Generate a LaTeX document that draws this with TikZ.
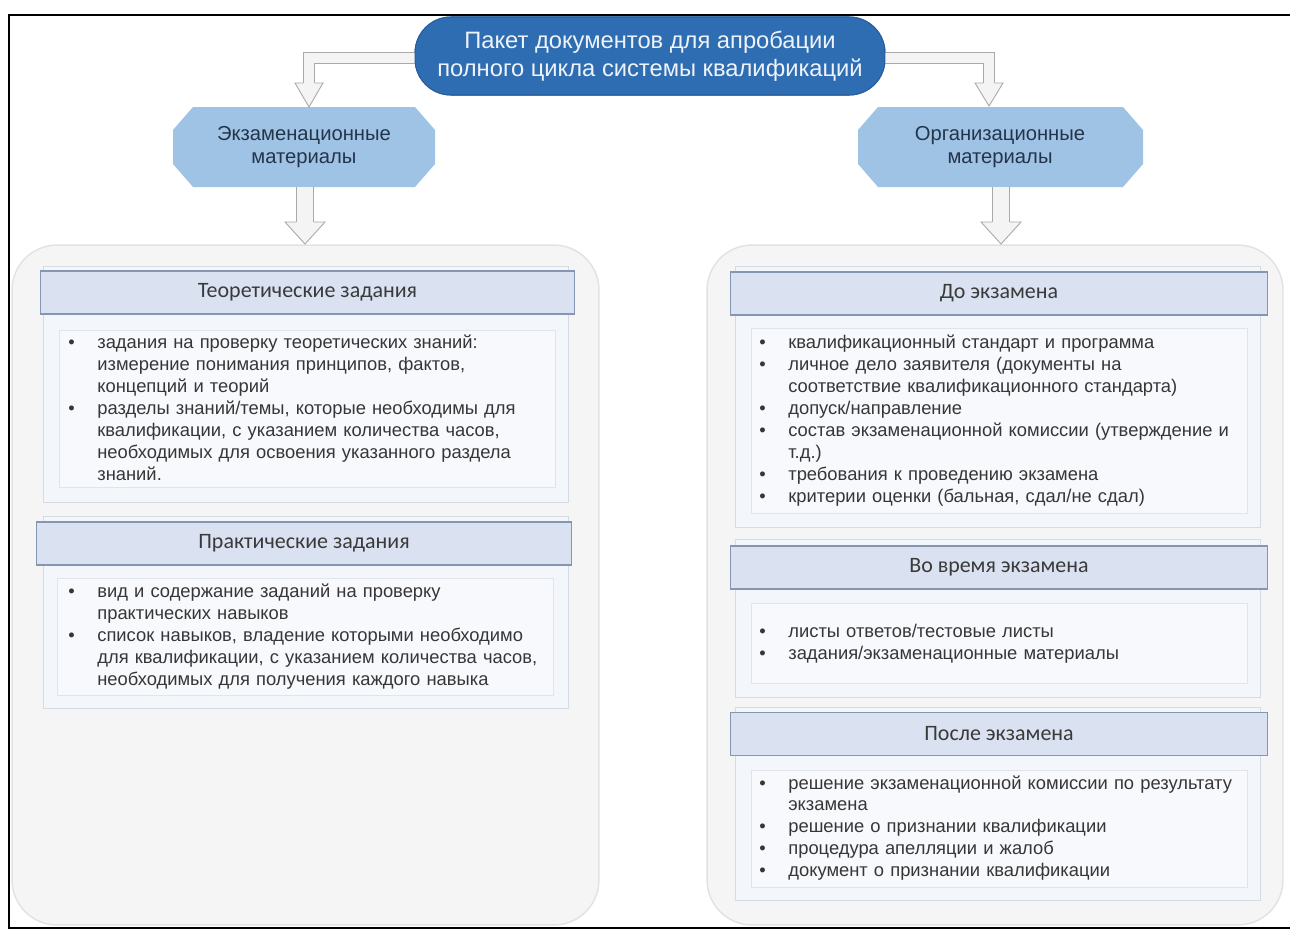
\documentclass[tikz,border=0pt]{standalone}
\usepackage{fontspec}
\setmainfont{Liberation Sans}
\newfontfamily\hdrfont{Carlito}
\usetikzlibrary{calc}
\definecolor{pillblue}{HTML}{2F6DB2}
\definecolor{pillline}{HTML}{285E9C}
\definecolor{pilltext}{HTML}{EEF3FA}
\definecolor{octblue}{HTML}{9FC3E5}
\definecolor{octtext}{HTML}{24344A}
\definecolor{arrowfill}{HTML}{F4F4F4}
\definecolor{arrowline}{HTML}{A9A9A9}
\definecolor{contfill}{HTML}{F5F5F5}
\definecolor{contline}{HTML}{E2E2E2}
\definecolor{hdrfill}{HTML}{DAE1F1}
\definecolor{hdrline}{HTML}{8596B2}
\definecolor{hdrtext}{HTML}{3A3A3A}
\definecolor{panelfill}{HTML}{F3F6FA}
\definecolor{panelline}{HTML}{D5DBE4}
\definecolor{boxfill}{HTML}{F7F9FC}
\definecolor{boxline}{HTML}{E0E4EB}
\definecolor{bodytext}{HTML}{363636}
\newcommand{\bodyfnt}{\fontsize{10.45}{12.5}\selectfont}
\newcommand{\bitem}[1]{\hangindent=0.58cm\hangafter=1\noindent\makebox[0.58cm][l]{•}#1\par}
\newcommand{\arrhead}[4]{%
  \fill[arrowfill] ($(#1)+(-#2,0)$) -- (#4) -- ($(#1)+(#2,0)$) -- cycle;
  \draw[arrowline, line width=0.5pt, line join=miter] ($(#1)+(-#3,0)$) -- ($(#1)+(-#2,0)$) -- (#4) -- ($(#1)+(#2,0)$) -- ($(#1)+(#3,0)$);}
\begin{document}
\begin{tikzpicture}[x=0.02cm, y=-0.02cm,
  container/.style={draw=contline, fill=contfill, rounded corners=0.9cm, line width=0.8pt, inner sep=0pt},
  panel/.style={draw=panelline, fill=panelfill, line width=0.5pt, inner sep=0pt, minimum width=10.5cm},
  hdr/.style={draw=hdrline, fill=hdrfill, line width=0.6pt, inner sep=0pt, minimum height=0.86cm, font=\hdrfont\fontsize{12.5}{14}\selectfont, text=hdrtext},
  ibox/.style={draw=boxline, fill=boxfill, line width=0.5pt, inner sep=0pt, minimum width=9.92cm},
  bodytxt/.style={anchor=west, text width=10.6cm, inner sep=0pt, font=\bodyfnt, text=bodytext, align=left},
  band/.style={draw=arrowline, line width=0.5pt, double=arrowfill, double distance=0.2cm},
  wideband/.style={draw=arrowline, line width=0.5pt, double=arrowfill, double distance=0.32cm},
  pill/.style={draw=pillline, fill=pillblue, line width=0.6pt, rounded corners=0.72cm, minimum width=9.4cm, minimum height=1.56cm, text=pilltext, align=center, font=\fontsize{13.5}{16}\selectfont},
  octnode/.style={inner sep=0pt, minimum height=1.6cm, text=octtext, align=center, font=\fontsize{11.5}{13.2}\selectfont},
  octshape/.style={fill=octblue}
]
\useasboundingbox (0,0) rectangle (1290,930);
\fill[white] (0,0) rectangle (1290,930);
% frame
\draw[line width=1.3pt, line cap=rect] (1300,15) -- (9,15) -- (9,928) -- (1300,928);

% containers
\node[container, minimum width=11.74cm, minimum height=13.6cm] (lcont) at (305.5,585) {};
\node[container, minimum width=11.52cm, minimum height=13.6cm] (rcont) at (995,585) {};

% left section 1
\node[panel, minimum height=4.72cm] (lp1) at (306,384) {};
\node[hdr, minimum width=10.7cm] (lh1) at (307.5,292.5) {Теоретические задания};
\node[ibox, minimum height=3.14cm] (lb1) at (307,408.5) {};
\node[bodytxt] (lt1) at (68,408) {%
\bitem{задания на проверку теоретических знаний:\newline измерение понимания принципов, фактов,\newline концепций и теорий}%
\bitem{разделы знаний/темы, которые необходимы для\newline квалификации, с указанием количества часов,\newline необходимых для освоения указанного раздела\newline знаний.}};

% left section 2
\node[panel, minimum height=3.84cm] (lp2) at (306,612) {};
\node[hdr, minimum width=10.72cm] (lh2) at (304,543.5) {Практические задания};
\node[ibox, minimum height=2.34cm] (lb2) at (305,636.5) {};
\node[bodytxt] (lt2) at (68,637) {%
\bitem{вид и содержание заданий на проверку\newline практических навыков}%
\bitem{список навыков, владение которыми необходимо\newline для квалификации, с указанием количества часов,\newline необходимых для получения каждого навыка}};

% right section 1
\node[panel, minimum height=5.22cm] (rp1) at (998,396.5) {};
\node[hdr, minimum width=10.76cm] (rh1) at (999,293.5) {До экзамена};
\node[ibox, minimum height=3.7cm] (rb1) at (999,420.5) {};
\node[bodytxt] (rt1) at (759,420.5) {%
\bitem{квалификационный стандарт и программа}%
\bitem{личное дело заявителя (документы на\newline соответствие квалификационного стандарта)}%
\bitem{допуск/направление}%
\bitem{состав экзаменационной комиссии (утверждение и\newline т.д.)}%
\bitem{требования к проведению экзамена}%
\bitem{критерии оценки (бальная, сдал/не сдал)}};

% right section 2
\node[panel, minimum height=3.16cm] (rp2) at (998,618) {};
\node[hdr, minimum width=10.76cm] (rh2) at (999,567.5) {Во время экзамена};
\node[ibox, minimum height=1.6cm] (rb2) at (999,643) {};
\node[bodytxt] (rt2) at (759,643.5) {%
\bitem{листы ответов/тестовые листы}%
\bitem{задания/экзаменационные материалы}};

% right section 3
\node[panel, minimum height=3.86cm] (rp3) at (998,803.5) {};
\node[hdr, minimum width=10.76cm] (rh3) at (999,734) {После экзамена};
\node[ibox, minimum height=2.34cm] (rb3) at (999,828.5) {};
\node[bodytxt] (rt3) at (759,828) {%
\bitem{решение экзаменационной комиссии по результату\newline экзамена}%
\bitem{решение о признании квалификации}%
\bitem{процедура апелляции и жалоб}%
\bitem{документ о признании квалификации}};

% octagons
\fill[octshape] (173,130) -- (193,107) -- (415,107) -- (435,130) -- (435,164) -- (415,187) -- (193,187) -- (173,164) -- cycle;
\node[octnode] (exam) at (304,147) {Экзаменационные\\материалы};
\fill[octshape] (858,130) -- (878,107) -- (1123,107) -- (1143,130) -- (1143,164) -- (1123,187) -- (878,187) -- (858,164) -- cycle;
\node[octnode] (org) at (1000,147) {Организационные\\материалы};

% coordinates for arrow heads
\coordinate (lhb) at (309,83);
\coordinate (lht) at (309,107);
\coordinate (rhb) at (989,83);
\coordinate (rht) at (989,106);
\coordinate (ldb) at (305,222);
\coordinate (ldt) at (305,244);
\coordinate (rdb) at (1001,222);
\coordinate (rdt) at (1001,244);

% bent arrows from the title
\node[pill] (top) at (650,56) {};
\draw[band] ([xshift=0.6cm,yshift=-0.04cm]top.west) -| (lhb);
\draw[band] ([xshift=-0.6cm,yshift=-0.04cm]top.east) -| (rhb);
\node[pill] (topfg) at (top) {Пакет документов для апробации\\полного цикла системы квалификаций};
\arrhead{lhb}{14}{6}{lht}
\arrhead{rhb}{14}{6}{rht}

% down arrows
\draw[wideband] ([xshift=0.02cm]exam.south) -- (ldb);
\arrhead{ldb}{20}{9}{ldt}
\draw[wideband] ([xshift=0.02cm]org.south) -- (rdb);
\arrhead{rdb}{20}{9}{rdt}
\end{tikzpicture}
\end{document}
